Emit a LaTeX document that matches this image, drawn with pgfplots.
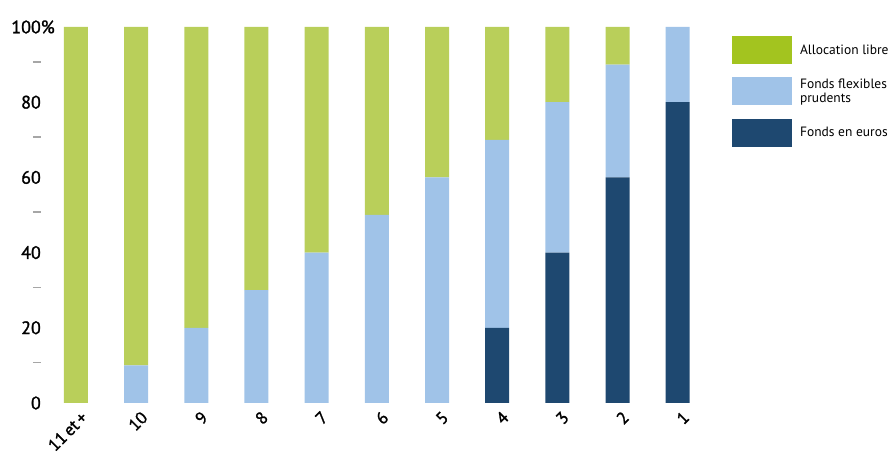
\documentclass[border=0pt]{standalone}
\usepackage{fontspec}
\setmainfont{PT Sans}
\newfontfamily\tickfont[FakeBold=1.5]{PT Sans}
\usepackage{pgfplots}
\pgfplotsset{compat=1.18}

\definecolor{vert}{HTML}{B9CF5A}
\definecolor{vertleg}{HTML}{A3C41F}
\definecolor{bleuclair}{HTML}{A0C3E8}
\definecolor{bleufonce}{HTML}{1E4870}
\definecolor{tiret}{HTML}{A6A6A6}

\newcommand{\tiret}{\textcolor{tiret}{\rule[0.3em]{8pt}{1.6pt}}\hspace{5pt}}
\newcommand{\ind}{\hspace*{6pt}}

\begin{document}
\begin{tikzpicture}
\useasboundingbox (-44pt,-51pt) rectangle (846pt,403pt);
\begin{axis}[
    at={(0,0)}, anchor=south west,
    scale only axis,
    width=656pt, height=376pt,
    ybar stacked,
    bar width=24pt,
    xmin=-0.53, xmax=10.37,
    ymin=0, ymax=100,
    xtick={0,...,10},
    xticklabels={11\,et\,+,10,9,8,7,6,5,4,3,2,1},
    ytick={0,10,...,100},
    yticklabels={0,\tiret,20,\tiret,40,\tiret,60,\tiret,80,\tiret,100\rlap{\%}},
    axis line style={draw=none},
    major tick length=0pt,
    tick label style={font=\tickfont\fontsize{18}{18}\selectfont},
    xticklabel style={font=\tickfont\fontsize{17}{17}\selectfont, xshift=4pt, yshift=-7pt, rotate=45, anchor=north east, inner sep=0pt},
    yticklabel style={inner sep=1pt, xshift=-2pt},
    legend style={
        at={(1.044,0.982)}, anchor=north west,
        draw=none, fill=none,
        font=\fontsize{13.5}{14.5}\selectfont,
        row sep=12.5pt,
        cells={anchor=west, align=left},
    },
    legend image code/.code={\fill[#1] (0pt,-14pt) rectangle (60pt,14pt);},
]
\addplot[fill=bleufonce, draw=none, forget plot] coordinates {
    (0,0) (1,0) (2,0) (3,0) (4,0) (5,0) (6,0) (7,20) (8,40) (9,60) (10,80)
};
\addplot[fill=bleuclair, draw=none, forget plot] coordinates {
    (0,0) (1,10) (2,20) (3,30) (4,40) (5,50) (6,60) (7,50) (8,40) (9,30) (10,20)
};
\addplot[fill=vert, draw=none, forget plot] coordinates {
    (0,100) (1,90) (2,80) (3,70) (4,60) (5,50) (6,40) (7,30) (8,20) (9,10) (10,0)
};
\addlegendimage{fill=vertleg, draw=none}
\addlegendentry{\ind Allocation libre}
\addlegendimage{fill=bleuclair, draw=none}
\addlegendentry{\ind Fonds flexibles\\\ind prudents}
\addlegendimage{fill=bleufonce, draw=none}
\addlegendentry{\ind Fonds en euros}
\end{axis}
\end{tikzpicture}
\end{document}
